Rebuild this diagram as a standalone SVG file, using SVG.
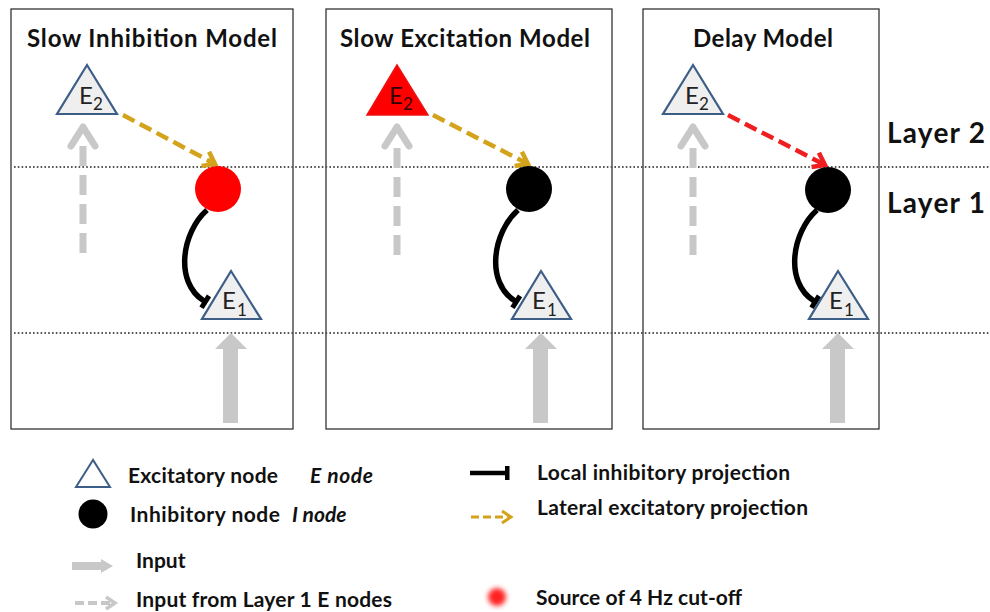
<svg xmlns="http://www.w3.org/2000/svg" width="990" height="612" viewBox="0 0 990 612">
<style>
text{font-family:Lato,"Liberation Sans",sans-serif;fill:#111}
.t{font-weight:bold;font-size:24px}
.lg{font-weight:bold;font-size:21px}
.lay{font-weight:bold;font-size:28px}
.e{font-size:24px;fill:#222}
.s{font-size:17px;fill:#222}
.box{fill:none;stroke:#333;stroke-width:1.3}
.dot{stroke:#555;stroke-width:1.8;stroke-dasharray:1.6 2.2}
.etri{fill:#efefef;stroke:#3d5e86;stroke-width:2.2;stroke-linejoin:miter}
.gd{stroke:#c8c8c8;stroke-width:7;fill:none}
.gch{stroke:#c8c8c8;stroke-width:7;fill:none;stroke-linecap:round;stroke-linejoin:round}
.ye{stroke:#d4a31c;stroke-width:4.5;fill:none;stroke-dasharray:13 6}
.re{stroke:#f01e1e;stroke-width:4.5;fill:none;stroke-dasharray:13 6}
.inh{stroke:#000;stroke-width:5.5;fill:none}
.big{fill:#c8c8c8}
</style>
<defs>
<marker id="chevY" viewBox="-14 -10 18 20" refX="0" refY="0" markerWidth="18" markerHeight="20" markerUnits="userSpaceOnUse" orient="auto">
<path d="M-11,-8 L0,0 L-11,8" fill="none" stroke="#d4a31c" stroke-width="4.5"/>
</marker>
<marker id="chevR" viewBox="-14 -10 18 20" refX="0" refY="0" markerWidth="18" markerHeight="20" markerUnits="userSpaceOnUse" orient="auto">
<path d="M-11,-8 L0,0 L-11,8" fill="none" stroke="#f01e1e" stroke-width="4.5"/>
</marker>
<marker id="tbar" viewBox="-10 -10 20 20" refX="0" refY="0" markerWidth="20" markerHeight="20" markerUnits="userSpaceOnUse" orient="auto">
<rect x="-1" y="-7" width="5" height="14" fill="#000"/>
</marker>
<filter id="blur" x="-1" y="-1" width="3" height="3"><feGaussianBlur stdDeviation="2.5"/></filter>
</defs>

<!-- panels -->
<g id="panel-slow-inhibition">
<rect class="box" x="11" y="9" width="282" height="420"/>
<text class="t" x="27" y="47" textLength="250">Slow Inhibition Model</text>
</g>
<g id="panel-slow-excitation">
<rect class="box" x="326" y="9" width="286" height="420"/>
<text class="t" x="340" y="47" textLength="250">Slow Excitation Model</text>
</g>
<g id="panel-delay">
<rect class="box" x="643" y="9" width="236" height="420"/>
<text class="t" x="693" y="47" textLength="140">Delay Model</text>
</g>

<!-- layer lines -->
<g id="layers">
<line class="dot" x1="14" y1="167" x2="990" y2="167"/>
<line class="dot" x1="14" y1="333" x2="990" y2="333"/>
<text class="lay" x="887" y="143" textLength="98">Layer 2</text>
<text class="lay" x="887" y="213" textLength="98">Layer 1</text>
</g>

<!-- connectors -->
<g id="connectors">
<!-- panel 1 -->
<line class="gd" x1="83" y1="253" x2="83" y2="145" stroke-dasharray="20 9"/>
<polyline class="gch" points="71,146 83,127 95,146"/>
<path class="ye" d="M123,115 L215,164" marker-end="url(#chevY)"/>
<path class="inh" d="M207,210 C182,232 174,282 204,301" marker-end="url(#tbar)"/>
<polygon class="big" points="231,333 247,349 238,349 238,423 223,423 223,349 215,349"/>
<!-- panel 2 -->
<line class="gd" x1="397" y1="255" x2="397" y2="145" stroke-dasharray="20 9"/>
<polyline class="gch" points="385,146 397,127 409,146"/>
<path class="ye" d="M433,115 L528,164" marker-end="url(#chevY)"/>
<path class="inh" d="M518,210 C493,232 485,282 515,301" marker-end="url(#tbar)"/>
<polygon class="big" points="541,333 557,349 548,349 548,423 533,423 533,349 525,349"/>
<!-- panel 3 -->
<line class="gd" x1="693" y1="255" x2="693" y2="145" stroke-dasharray="20 9"/>
<polyline class="gch" points="681,146 693,127 705,146"/>
<path class="re" d="M728,115 L825,165" marker-end="url(#chevR)"/>
<path class="inh" d="M817,210 C792,232 784,282 814,301" marker-end="url(#tbar)"/>
<polygon class="big" points="838,333 854,349 845,349 845,423 830,423 830,349 822,349"/>
</g>

<!-- nodes panel 1 -->
<g id="p1-E2">
<polygon class="etri" points="87,65 57,114 117,114"/>
<text class="e" x="79" y="104">E</text><text class="s" x="93" y="110">2</text>
</g>
<g id="p1-I">
<circle cx="218" cy="189" r="23" fill="#ff0000"/>
</g>
<g id="p1-E1">
<polygon class="etri" points="231,271 202,319 261,319"/>
<text class="e" x="222" y="309">E</text><text class="s" x="237" y="316">1</text>
</g>

<!-- nodes panel 2 -->
<g id="p2-E2">
<polygon points="397,65 367,115 428,115" fill="#ff0000" stroke="#ee1111" stroke-width="1.5"/>
<text class="e" x="389" y="104" style="fill:#300">E</text><text class="s" x="403" y="110" style="fill:#300">2</text>
</g>
<g id="p2-I">
<circle cx="529" cy="189" r="23" fill="#000"/>
</g>
<g id="p2-E1">
<polygon class="etri" points="541,271 512,319 571,319"/>
<text class="e" x="532" y="309">E</text><text class="s" x="547" y="316">1</text>
</g>

<!-- nodes panel 3 -->
<g id="p3-E2">
<polygon class="etri" points="693,65 663,114 723,114"/>
<text class="e" x="685" y="104">E</text><text class="s" x="699" y="110">2</text>
</g>
<g id="p3-I">
<circle cx="828" cy="190" r="23" fill="#000"/>
</g>
<g id="p3-E1">
<polygon class="etri" points="838,271 809,319 868,319"/>
<text class="e" x="829" y="309">E</text><text class="s" x="844" y="316">1</text>
</g>

<!-- legend -->
<g id="legend">
<polygon points="93,460 76,487 110,487" fill="#fff" stroke="#3d5e86" stroke-width="2"/>
<text class="lg" x="128" y="483" textLength="150">Excitatory node</text>
<text class="lg" x="310" y="483" font-style="italic" textLength="63">E node</text>
<circle cx="93" cy="514" r="14.5" fill="#000"/>
<text class="lg" x="130" y="522" textLength="150">Inhibitory node</text>
<text class="lg" x="292" y="522" font-style="italic">I node</text>
<polygon points="72,562 101,562 101,559 113,566 101,573 101,570 72,570" fill="#c8c8c8"/>
<text class="lg" x="136" y="568">Input</text>
<line x1="75" y1="603" x2="112" y2="603" stroke="#c8c8c8" stroke-width="4" stroke-dasharray="9 4"/>
<polyline points="106,597 115,603 106,609" fill="none" stroke="#c8c8c8" stroke-width="3.5"/>
<text class="lg" x="136" y="607" textLength="256">Input from Layer 1 E nodes</text>
<line x1="470" y1="473" x2="506" y2="473" stroke="#000" stroke-width="4.5"/>
<rect x="505" y="466" width="4.5" height="14" fill="#000"/>
<text class="lg" x="537" y="480" textLength="253">Local inhibitory projection</text>
<line x1="471" y1="517" x2="508" y2="517" stroke="#d4a31c" stroke-width="3" stroke-dasharray="8 4"/>
<polyline points="502,511 511,517 502,523" fill="none" stroke="#d4a31c" stroke-width="3"/>
<text class="lg" x="537" y="515" textLength="271">Lateral excitatory projection</text>
<circle cx="497" cy="597" r="9" fill="#ff2020" filter="url(#blur)"/>
<text class="lg" x="536" y="605" textLength="206">Source of 4 Hz cut-off</text>
</g>
</svg>
